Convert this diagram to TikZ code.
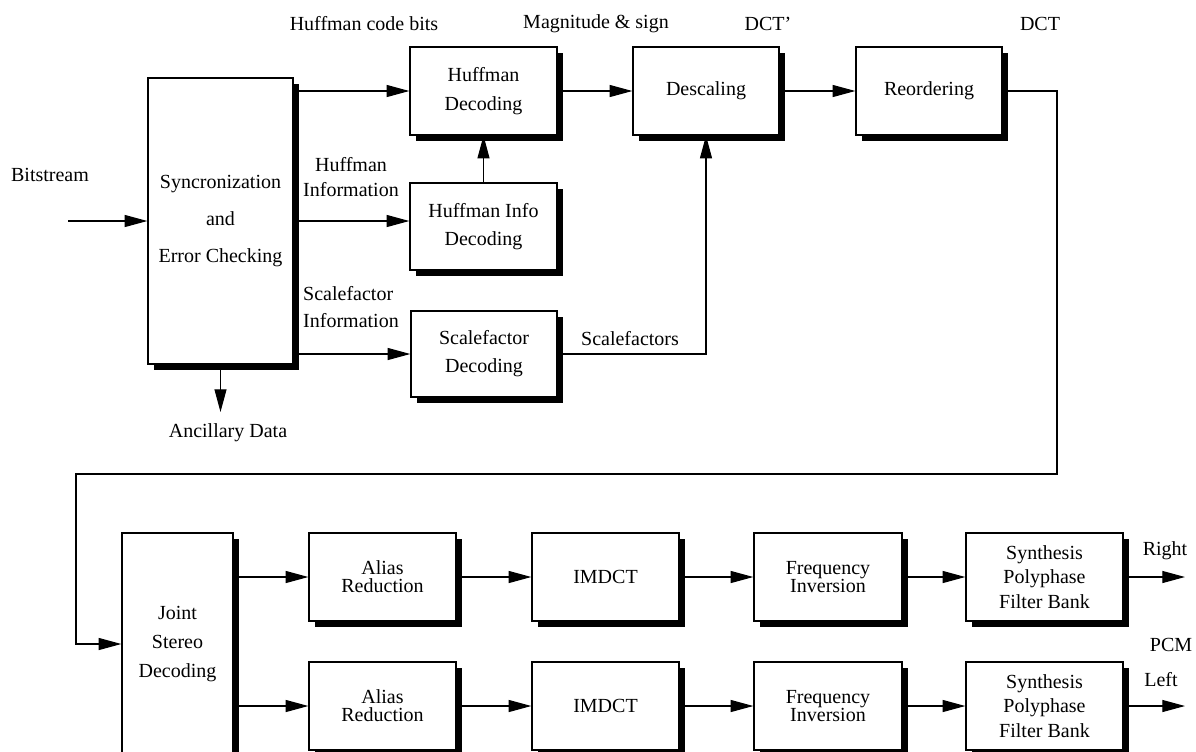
\documentclass[tikz,border=0pt]{standalone}
\usepackage{fontspec}
\setmainfont{Liberation Serif}
\usetikzlibrary{arrows.meta,shadows,calc}
\begin{document}
\begin{tikzpicture}[x=0.75pt,y=-0.75pt,
  txt/.style={font=\fontsize{15}{#1}\selectfont},
  txt/.default=18,
  box/.style={draw, line width=1pt, fill=white, inner sep=0pt, align=center,
    general shadow={fill=black, shadow xshift=4.5pt, shadow yshift=-4.5pt}},
  size/.style 2 args={minimum width=#1*0.75pt, minimum height=#2*0.75pt},
  conn/.style={line width=0.8pt},
  arr/.style={conn, -{Triangle[length=17pt,width=9pt]}},
  lbl/.style={inner sep=0pt, align=center}]
\useasboundingbox (0,0) rectangle (1196,751);
\clip (0,0) rectangle (1196,751);

% upper part: bitstream parsing and dequantisation
\node[box,size={145}{286},txt=27.5] (sync) at (220.5,221) {Syncronization\\and\\Error Checking};
\node[box,size={147}{88},txt=21.75] (hd) at (483.5,91) {Huffman\\Decoding};
\node[box,size={147}{87},txt=21] (hid) at (483.5,226.5) {Huffman Info\\Decoding};
\node[box,size={146}{86},txt=21] (sd) at (484,354) {Scalefactor\\Decoding};
\node[box,size={146}{88},txt] (desc) at (706,91) {Descaling};
\node[box,size={146}{88},txt] (reord) at (929,91) {Reordering};

% lower part: stereo processing and synthesis
\node[box,size={111}{222},txt=21.75] (joint) at (177.5,644) {Joint\\Stereo\\Decoding};
\foreach \r/\y in {1/577,2/706}{
  \node[box,size={147}{88},txt=13.5] (ar\r) at (382.5,\y) {Alias\\Reduction};
  \node[box,size={147}{88},txt] (im\r) at (605.5,\y) {IMDCT};
  \node[box,size={148}{88},txt=13.5] (fi\r) at (828,\y) {Frequency\\Inversion};
  \node[box,size={157}{88},txt=18.5] (sp\r) at (1044.5,\y) {Synthesis\\Polyphase\\Filter Bank};
  \coordinate (out\r) at (1185,\y);
}

% labels
\node[lbl,txt] (lhcb) at (364,24) {Huffman code bits};
\node[lbl,txt] (lmag) at (596,24) {Magnitude \& sign};
\node[lbl,txt] (ldctp) at (768,24) {DCT'};
\node[lbl,txt] (ldct) at (1040,24) {DCT};
\node[lbl,txt] (lbit) at (50,175) {Bitstream};
\node[lbl,txt=18.75] (lhinf) at (351,177) {Huffman\\Information};
\node[lbl,txt=20.25,align=left] (lsinf) at (351,307) {Scalefactor\\Information};
\node[lbl,txt] (lsf) at (630,339) {Scalefactors};
\node[lbl,txt] (lanc) at (228,433) {Ancillary Data};
\node[lbl,txt] (lright) at (1165,551) {Right};
\node[lbl,txt] (lpcm) at (1171,645) {PCM};
\node[lbl,txt] (lleft) at (1161,680) {Left};

% free ends and bends
\coordinate (bsin) at (68,221);
\coordinate (ancend) at (220.5,412);
\coordinate (c1) at (1057,91);
\coordinate (c2) at (1057,474);
\coordinate (c3) at (76,474);
\coordinate (c4) at (76,644);

% connectors
\draw[arr] (bsin) -- (sync.west);
\draw[arr] (sync.east |- hd.west) -- (hd.west);
\draw[arr] (sync.east) -- (sync.east -| hid.west);
\draw[arr] (sync.east |- sd.west) -- (sd.west);
\draw[arr] (sync.south) -- (ancend);
\draw[arr] (hid.north) -- (hd.south);
\draw[arr] (hd.east) -- (desc.west);
\draw[arr] (desc.east) -- (reord.west);
\draw[arr] (sd.east) -| (desc.south);
\draw[arr] (reord.east) -- (c1) -- (c2) -- (c3) -- (c4) -- (joint.west);
\foreach \r in {1,2}{
  \draw[arr] (joint.east |- ar\r.west) -- (ar\r.west);
  \draw[arr] (ar\r.east) -- (im\r.west);
  \draw[arr] (im\r.east) -- (fi\r.west);
  \draw[arr] (fi\r.east) -- (sp\r.west);
  \draw[arr] (sp\r.east) -- (out\r);
}
\end{tikzpicture}
\end{document}
